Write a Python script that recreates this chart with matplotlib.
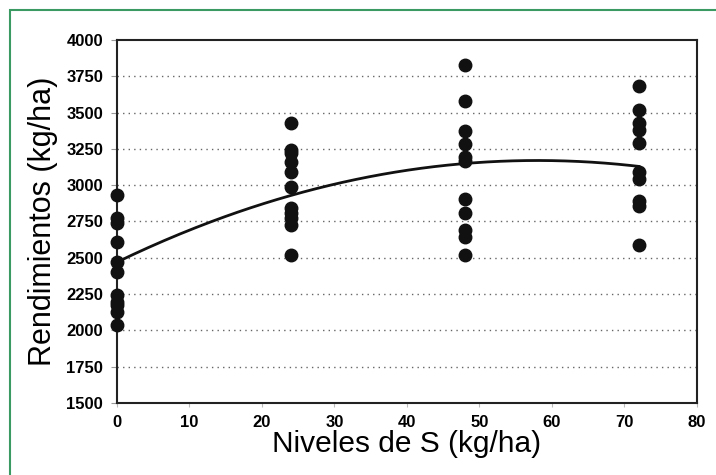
import matplotlib.pyplot as plt
import numpy as np
from matplotlib.patches import Rectangle

# Dosis de S (kg/ha) y rendimientos observados (kg/ha)
niveles = [0, 24, 48, 72]
rend_0 = [2930, 2775, 2740, 2610, 2470, 2400, 2245, 2195, 2175, 2130, 2035]
rend_24 = [3430, 3240, 3220, 3160, 3090, 2990, 2845, 2810, 2775, 2725, 2520]
rend_48 = [3830, 3580, 3370, 3285, 3195, 3165, 2905, 2810, 2690, 2645, 2520]
rend_72 = [3680, 3520, 3430, 3380, 3290, 3090, 3040, 2890, 2860, 2590]

# Ajuste cuadratico: a + b*x + c*x^2
coef_a, coef_b, coef_c = 2470, 24.14, -0.2081

x_ticks = [0, 10, 20, 30, 40, 50, 60, 70, 80]
y_ticks = [1500, 1750, 2000, 2250, 2500, 2750, 3000, 3250, 3500, 3750, 4000]

fig = plt.figure(figsize=(7.16, 4.75), dpi=100)
ax = fig.add_axes([0.1634, 0.1516, 0.81, 0.7642])

# Cuadro verde alrededor de la figura
fig.patches.append(Rectangle((10 / 716, -0.05), 1.1, 1 - 10 / 475 + 0.05,
                             transform=fig.transFigure, fill=False,
                             edgecolor='#3a9a62', linewidth=1.5))

# Lineas de referencia punteadas
for v in y_ticks[1:-1]:
    ax.axhline(v, color='#666666', linestyle=(0, (1, 3)), linewidth=1.0, zorder=1)

todos = [rend_0, rend_24, rend_48, rend_72]
for nivel, valores in zip(niveles, todos):
    ax.plot([nivel] * len(valores), valores, 'o', color='#111111',
            markersize=9, clip_on=False, zorder=3)

xs = np.linspace(0, 72, 200)
ax.plot(xs, coef_a + coef_b * xs + coef_c * xs ** 2, color='#111111',
        linewidth=2, zorder=2)

ax.set_xlim(0, 80)
ax.set_ylim(1500, 4000)
ax.set_xticks(x_ticks)
ax.set_yticks(y_ticks)
ax.set_xticklabels([str(t) for t in x_ticks], fontweight='bold', fontsize=12,
                   family='Liberation Sans')
ax.set_yticklabels([str(t) for t in y_ticks], fontweight='bold', fontsize=12,
                   family='Liberation Sans')
ax.tick_params(axis='y', length=4, color='#999999', pad=6)
ax.tick_params(axis='x', length=3, color='#bbbbbb', pad=6)

for s in ax.spines.values():
    s.set_linewidth(1.5)
    s.set_color('#222222')

ax.set_xlabel('Niveles de S (kg/ha)', fontsize=21.5, family='Liberation Sans',
              labelpad=0)
ax.set_ylabel('Rendimientos (kg/ha)', fontsize=22, family='Liberation Sans',
              labelpad=6)

fig.savefig('out.png', dpi=100)
